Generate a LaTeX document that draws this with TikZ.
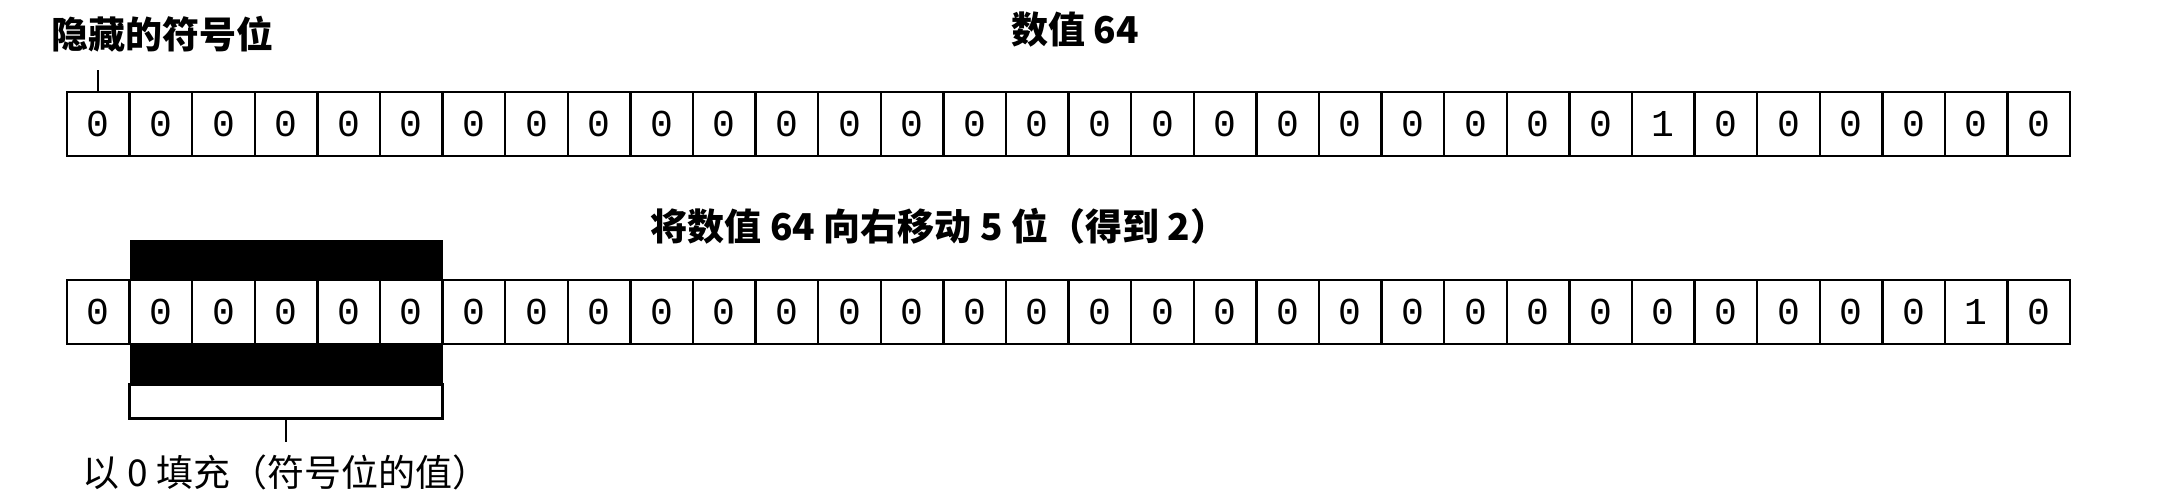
\documentclass[tikz,border=0pt]{standalone}
\usepackage{fontspec}
\newfontfamily\cjk{Noto Sans CJK SC}
\newfontfamily\bitfont{Liberation Mono}
\usetikzlibrary{positioning,calc,fit,backgrounds}

\tikzset{
  bit/.style={draw, line width=1.2pt, fill=white, minimum width=31.3pt, minimum height=32pt,
    inner sep=0pt, outer sep=0pt, anchor=north west, font=\bitfont\fontsize{19}{20}\selectfont},
  caption/.style={inner sep=0pt, font=\cjk\bfseries\fontsize{18.5}{20}\selectfont},
  note/.style={inner sep=0pt, font=\cjk\fontsize{18.5}{20}\selectfont}
}

\begin{document}
\begin{tikzpicture}[x=0.5pt, y=-0.5pt]
\useasboundingbox (0,0) rectangle (2164,490);

% the value 64
\node[caption] (hidden) at (162,34) {隐藏的符号位};
\node[caption] (value) at (1075,30) {数值 64};
\foreach \i in {0,...,31}
  \node[bit] (a\i) at ({67+62.6*\i},92) {\ifnum\i=25 1\else 0\fi};
\coordinate (signtick) at ($(a0.north)+(0,-22)$);
\draw[line width=1pt] (a0.north) -- (signtick);

% shifted right by 5
\node[caption] (shifted) at (939,226) {将数值 64 向右移动 5 位（得到 2）};
\foreach \i in {0,...,31}
  \node[bit] (b\i) at ({67+62.6*\i},280) {\ifnum\i=30 1\else 0\fi};
\begin{scope}[on background layer]
  \node[fit=(b1)(b5), fill=black, inner xsep=0pt, inner ysep=20pt] (shade) {};
\end{scope}
\node[draw, line width=1.2pt, anchor=north, minimum width=156.5pt, minimum height=17pt,
  inner sep=0pt, outer sep=0pt] (pad) at (shade.south) {};
\coordinate (padtick) at ($(pad.south)+(0,24)$);
\draw[line width=1pt] (pad.south) -- (padtick);
\node[note, below=6pt of padtick] (filllabel) {以 0 填充（符号位的值）};
\end{tikzpicture}
\end{document}
